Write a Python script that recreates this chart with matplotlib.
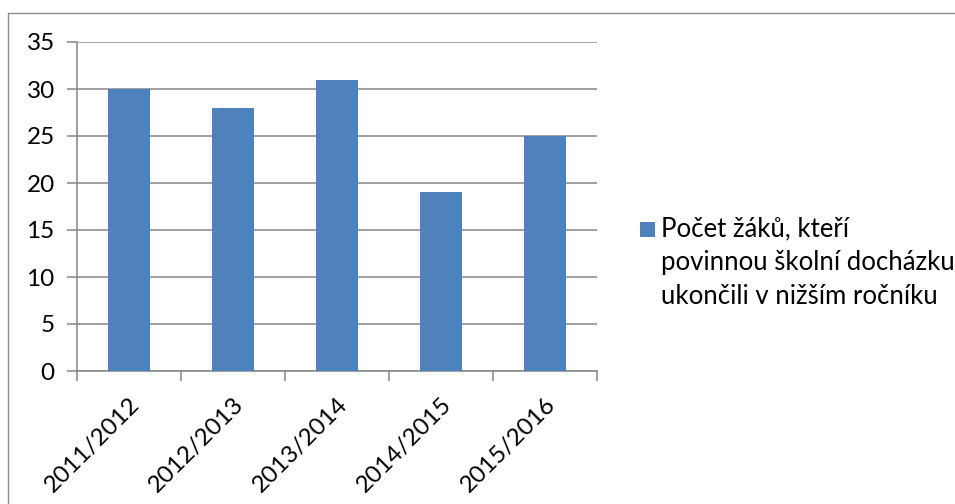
import matplotlib
matplotlib.use('Agg')
import matplotlib.pyplot as plt
from matplotlib.patches import Rectangle
import numpy as np

# school years and number of pupils
years = ['2011/2012', '2012/2013', '2013/2014', '2014/2015', '2015/2016']
pupils = [30, 28, 31, 19, 25]
series_label = 'Počet žáků, kteří\npovinnou školní docházku\nukončili v nižším ročníku'

plt.rcParams['font.family'] = ['Lato', 'DejaVu Sans']

bar_col = '#4F81BD'
grid_col = '#868686'
fs = 17.5

fig = plt.figure(figsize=(9.55, 5.04), dpi=100)
fig.patch.set_facecolor('white')

# chart frame (only top and left edges fall inside the image)
fig.patches.append(Rectangle((7.5/955, -0.1), 1.2, 1 - 12.5/504 + 0.1, transform=fig.transFigure,
                             fill=False, edgecolor='#8c8c8c', linewidth=1.0))

ax = fig.add_axes([77/955, 1 - 371/504, (597 - 77)/955, (371 - 42)/504])
x = np.arange(len(years))
ax.bar(x, pupils, width=0.4, color=bar_col, zorder=3)

ax.set_xlim(-0.5, len(years) - 0.5)
ax.set_ylim(0, 35)
ax.set_yticks(range(0, 36, 5))
ax.yaxis.grid(True, color=grid_col, linewidth=1.1, zorder=0)

for s in ['top', 'right']:
    ax.spines[s].set_visible(False)
for s in ['left', 'bottom']:
    ax.spines[s].set_color(grid_col)
    ax.spines[s].set_linewidth(1.1)

# category boundaries carry the x ticks, labels sit at category centres
ax.set_xticks(np.arange(-0.5, len(years), 1.0))
ax.set_xticklabels([])
ax.set_xticks(x, minor=True)
ax.set_xticklabels(years, minor=True, rotation=45, ha='right', va='top',
                   rotation_mode='anchor', fontsize=fs)
ax.tick_params(axis='x', which='major', length=7, width=1.1, color=grid_col)
ax.tick_params(axis='x', which='minor', length=0, pad=16)
ax.tick_params(axis='y', length=7, width=1.1, color=grid_col, labelsize=fs, pad=9)

# legend: square marker next to the first line of the wrapped label
fig.patches.append(Rectangle((640/955, 1 - 237/504), 15/955, 15/504,
                             transform=fig.transFigure, facecolor=bar_col, edgecolor='none'))
fig.text(661/955, 1 - 216/504, series_label, fontsize=18.5, ha='left', va='top',
         linespacing=1.45)

fig.savefig('out.png', dpi=100)
